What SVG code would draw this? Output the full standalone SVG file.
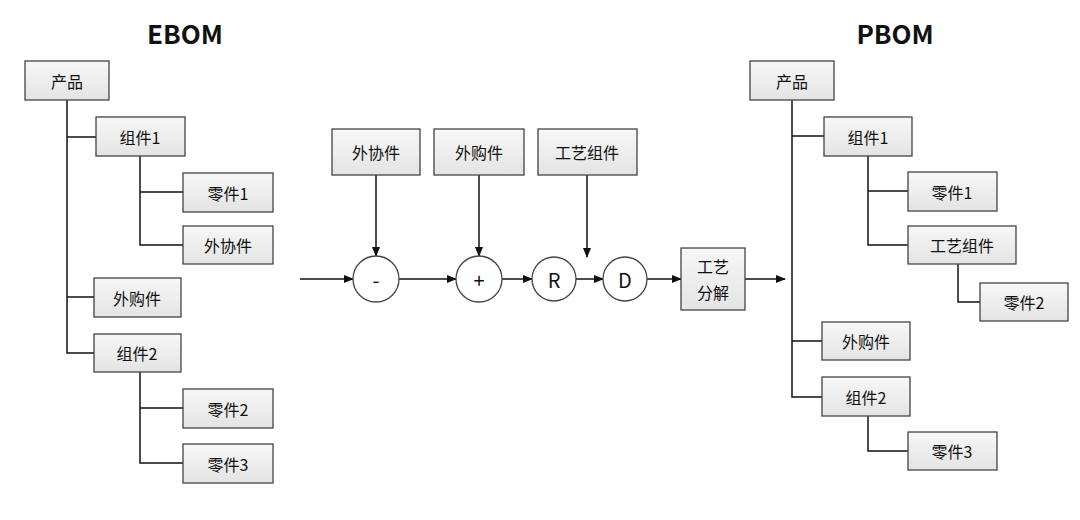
<svg xmlns="http://www.w3.org/2000/svg" width="1080" height="520" viewBox="0 0 1080 520">
<defs>
<marker id="ar" markerWidth="10" markerHeight="8" refX="9" refY="4" orient="auto" markerUnits="userSpaceOnUse"><path d="M0,0 L10,4 L0,8 Z" fill="#111"/></marker>
<linearGradient id="g" x1="0" y1="0" x2="0" y2="1"><stop offset="0" stop-color="#f7f7f7"/><stop offset="1" stop-color="#e4e4e4"/></linearGradient>
</defs>
<style>
.b rect{fill:url(#g);stroke:#444;stroke-width:1.3}
.b circle{fill:#fff;stroke:#444;stroke-width:1.3}
text{font-family:"Noto Sans CJK SC","Liberation Sans",sans-serif;font-size:16px;fill:#111;text-anchor:middle;dominant-baseline:central}
.t{font-size:26px;font-weight:bold}
.c{font-size:20px}
.l line,.l path{stroke:#111;stroke-width:1.5;fill:none}
.a{marker-end:url(#ar)}
</style>
<rect width="1080" height="520" fill="#fff"/>
<text class="t" x="185" y="32">EBOM</text>
<text class="t" x="895" y="32">PBOM</text>
<g class="l" id="connectors">
<path d="M67,100 V353 H94 M67,137 H96 M67,297 H94"/>
<path d="M140,156 V245 H183 M140,192 H183"/>
<path d="M140,372 V463 H183 M140,408 H183"/>
<path d="M792,100 V397 H822 M792,136 H824 M792,341 H822"/>
<path d="M868,156 V245 H908 M868,191 H908"/>
<path d="M958,264 V302 H980"/>
<path d="M868,416 V451 H908"/>
<line class="a" x1="300" y1="279" x2="353" y2="279"/>
<line class="a" x1="399" y1="279" x2="456" y2="279"/>
<line class="a" x1="502" y1="279" x2="532" y2="279"/>
<line class="a" x1="576" y1="279" x2="603" y2="279"/>
<line class="a" x1="647" y1="279" x2="681" y2="279"/>
<line class="a" x1="745" y1="279" x2="785" y2="279"/>
<line class="a" x1="376" y1="175" x2="376" y2="256"/>
<line class="a" x1="479" y1="175" x2="479" y2="256"/>
<line class="a" x1="587" y1="175" x2="587" y2="257"/>
</g>
<g class="b" id="e-product"><rect x="25" y="61" width="84" height="39"/><text x="67" y="81">产品</text></g>
<g class="b" id="e-asm1"><rect x="96" y="117" width="89" height="39"/><text x="140" y="137">组件1</text></g>
<g class="b" id="e-part1"><rect x="183" y="173" width="90" height="39"/><text x="228" y="193">零件1</text></g>
<g class="b" id="e-outsrc"><rect x="183" y="226" width="90" height="38"/><text x="228" y="245">外协件</text></g>
<g class="b" id="e-purch"><rect x="94" y="278" width="87" height="39"/><text x="137" y="298">外购件</text></g>
<g class="b" id="e-asm2"><rect x="94" y="334" width="87" height="38"/><text x="137" y="353">组件2</text></g>
<g class="b" id="e-part2"><rect x="183" y="389" width="90" height="39"/><text x="228" y="409">零件2</text></g>
<g class="b" id="e-part3"><rect x="183" y="444" width="90" height="39"/><text x="228" y="464">零件3</text></g>
<g class="b" id="m-outsrc"><rect x="332" y="129" width="88" height="46"/><text x="376" y="152">外协件</text></g>
<g class="b" id="m-purch"><rect x="434" y="129" width="90" height="46"/><text x="479" y="152">外购件</text></g>
<g class="b" id="m-procasm"><rect x="538" y="129" width="99" height="46"/><text x="587" y="152">工艺组件</text></g>
<g class="b" id="c-minus"><circle cx="376" cy="279" r="23"/><text class="c" x="376" y="279">-</text></g>
<g class="b" id="c-plus"><circle cx="479" cy="279" r="23"/><text class="c" x="479" y="279">+</text></g>
<g class="b" id="c-r"><circle cx="554" cy="279" r="22"/><text class="c" x="554" y="279">R</text></g>
<g class="b" id="c-d"><circle cx="625" cy="279" r="22"/><text class="c" x="625" y="279">D</text></g>
<g class="b" id="m-decomp"><rect x="681" y="248" width="64" height="62"/><text x="713" y="266">工艺</text><text x="713" y="292">分解</text></g>
<g class="b" id="p-product"><rect x="750" y="61" width="84" height="39"/><text x="792" y="81">产品</text></g>
<g class="b" id="p-asm1"><rect x="824" y="117" width="88" height="39"/><text x="868" y="137">组件1</text></g>
<g class="b" id="p-part1"><rect x="908" y="172" width="89" height="39"/><text x="952" y="192">零件1</text></g>
<g class="b" id="p-procasm"><rect x="908" y="226" width="108" height="38"/><text x="962" y="245">工艺组件</text></g>
<g class="b" id="p-part2"><rect x="980" y="283" width="88" height="38"/><text x="1024" y="302">零件2</text></g>
<g class="b" id="p-purch"><rect x="822" y="322" width="88" height="38"/><text x="866" y="341">外购件</text></g>
<g class="b" id="p-asm2"><rect x="822" y="377" width="88" height="39"/><text x="866" y="397">组件2</text></g>
<g class="b" id="p-part3"><rect x="908" y="432" width="89" height="38"/><text x="952" y="451">零件3</text></g>
</svg>
